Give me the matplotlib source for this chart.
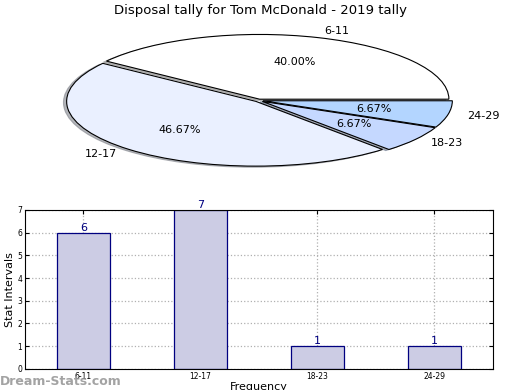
import matplotlib
matplotlib.use("Agg")
import matplotlib.pyplot as plt

categories = ["6-11", "12-17", "18-23", "24-29"]
counts = [6, 7, 1, 1]
pie_colors = ["#FFFFFF", "#EAF0FF", "#C5D8FF", "#B3D5FF"]
title = "Disposal tally for Tom McDonald - 2019 tally"

fig = plt.figure(figsize=(5.2, 3.9), dpi=100)

# Pie
axp = fig.add_axes([0.042, 0.535, 0.91, 0.415])
wedges, texts, autotexts = axp.pie(
    counts, labels=categories, colors=pie_colors, autopct="%.2f%%",
    explode=[0.02, 0.02, 0.025, 0.025],
    shadow={"ox": -0.012, "oy": -0.012, "shade": 0.45, "alpha": 0.6},
    startangle=0,
    wedgeprops=dict(edgecolor="black", linewidth=0.8),
    textprops=dict(fontsize=8))
axp.set_aspect("auto")
axp.set_xlim(-1.25, 1.25)
axp.set_ylim(-1.25, 1.25)
fig.text(0.5, 0.972, title, ha="center", va="center", fontsize=9.5)

# Bars
axb = fig.add_axes([0.048, 0.054, 0.9, 0.408])
x = list(range(len(categories)))
axb.bar(x, counts, width=0.45, color="#CCCCE4", edgecolor="#000080", linewidth=0.9, zorder=2)
for xi, c in zip(x, counts):
    axb.text(xi, c, str(c), ha="center", va="bottom", color="#000080", fontsize=8, zorder=3)
axb.set_xlim(-0.5, 3.5)
axb.set_ylim(0, 7)
axb.set_xticks(x)
axb.set_xticklabels(categories, fontsize=5.5)
axb.set_yticks(range(0, 8))
axb.tick_params(axis="y", labelsize=5.5)
axb.tick_params(direction="in", top=True, right=True, length=3, pad=2)
axb.grid(True, linestyle=":", color="#B0B0B0", linewidth=0.9, zorder=1)
axb.set_axisbelow(True)
axb.set_ylabel("Stat Intervals", fontsize=8, labelpad=2)
axb.set_xlabel("Frequency", fontsize=8, labelpad=1)

fig.text(0.0, 0.005, "Dream-Stats.com", fontsize=9, color="#999999", fontweight="bold", ha="left", va="bottom", alpha=0.9)

fig.savefig("out.png", dpi=100)
